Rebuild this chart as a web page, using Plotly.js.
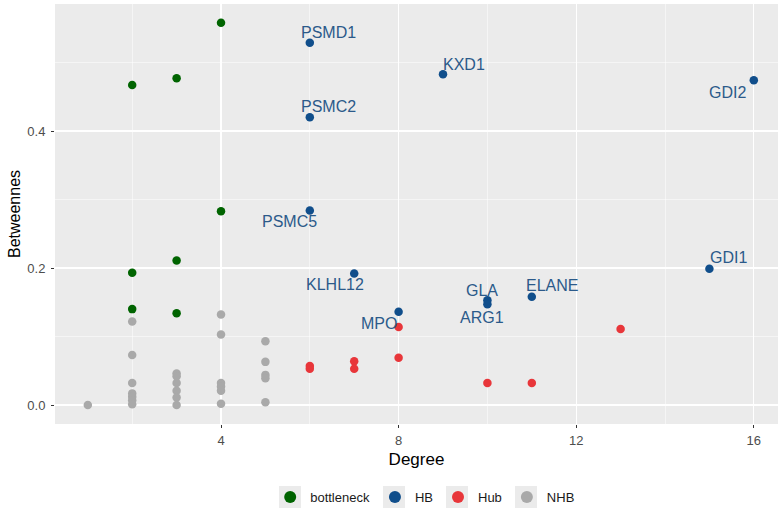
<!DOCTYPE html>
<html>
<head>
<meta charset="utf-8">
<script src="https://cdn.plot.ly/plotly-3.0.1.min.js"></script>
<style>html,body{margin:0;padding:0;background:#fff;}#chart{width:778px;height:512px;}</style>
</head>
<body>
<div id="chart"></div>
<script>
// ---- data ----
const bottleneckDegree = [2, 3, 4, 4, 2, 3, 2, 3];
const bottleneckBetween = [0.467, 0.477, 0.558, 0.283, 0.193, 0.211, 0.140, 0.134];

const hbNames = ["PSMD1", "KXD1", "GDI2", "PSMC2", "PSMC5", "KLHL12", "GLA", "ARG1", "ELANE", "MPO", "GDI1"];
const hbDegree = [6, 9, 16, 6, 6, 7, 10, 10, 11, 8, 15];
const hbBetween = [0.529, 0.483, 0.474, 0.420, 0.284, 0.192, 0.153, 0.147, 0.158, 0.136, 0.199];

const hubDegree = [6, 6, 7, 7, 8, 8, 10, 11, 13];
const hubBetween = [0.057, 0.053, 0.064, 0.053, 0.114, 0.069, 0.032, 0.032, 0.111];

const nhbDegree = [1, 2, 2, 2, 2, 2, 2, 2, 3, 3, 3, 3, 3, 3, 4, 4, 4, 4, 4, 4, 5, 5, 5, 5, 5];
const nhbBetween = [0.000, 0.122, 0.073, 0.032, 0.017, 0.012, 0.007, 0.001, 0.046, 0.042, 0.032, 0.021, 0.011, 0.000,
                    0.132, 0.103, 0.032, 0.027, 0.021, 0.002, 0.093, 0.063, 0.044, 0.039, 0.004];

const xTicks = [4, 8, 12, 16];
const xTickText = ["4", "8", "12", "16"];
const yTicks = [0, 0.2, 0.4];
const yTickText = ["0.0", "0.2", "0.4"];

// ---- label placement (style) ----
const labelShift = {
  PSMD1: [19, 10], KXD1: [21, 10], GDI2: [-26, -12], PSMC2: [19, 11], PSMC5: [-20, -11],
  KLHL12: [-19, -11], GLA: [-5, 10], ARG1: [-5, -13], ELANE: [20, 11], MPO: [-20, -12], GDI1: [19, 11]
};

const colors = {bottleneck: "#006400", HB: "#104E8B", Hub: "#E8363A", NHB: "#A9A9A9"};
const mk = c => ({color: c, size: 8.5});
const FONT = "Liberation Sans, Arial, sans-serif";

const traces = [
  {x: bottleneckDegree, y: bottleneckBetween, name: "bottleneck", type: "scatter", mode: "markers", marker: mk(colors.bottleneck)},
  {x: hbDegree, y: hbBetween, name: "HB", type: "scatter", mode: "markers", marker: mk(colors.HB), text: hbNames},
  {x: hubDegree, y: hubBetween, name: "Hub", type: "scatter", mode: "markers", marker: mk(colors.Hub)},
  {x: nhbDegree, y: nhbBetween, name: "NHB", type: "scatter", mode: "markers", marker: mk(colors.NHB)}
];

const annotations = hbNames.map((n, i) => ({
  x: hbDegree[i], y: hbBetween[i], xref: "x", yref: "y", text: n, showarrow: false,
  xanchor: "center", yanchor: "middle", xshift: labelShift[n][0], yshift: labelShift[n][1],
  font: {family: FONT, size: 16, color: "#2B5A8A"}
}));

// legend key backgrounds (pixel centres of the legend swatches, style only)
const keyCentresPx = [290, 394, 457, 526];
const keyShapes = keyCentresPx.map(cx => ({
  type: "rect", xref: "paper", yref: "paper", layer: "below",
  x0: (cx - 11 - 55) / 723, x1: (cx + 11 - 55) / 723,
  y0: (424 - 508) / 420, y1: (424 - 486) / 420,
  fillcolor: "#EBEBEB", line: {width: 0}
}));

const layout = {
  width: 778, height: 512,
  margin: {l: 55, r: 0, t: 4, b: 88},
  paper_bgcolor: "#ffffff",
  plot_bgcolor: "#EBEBEB",
  font: {family: FONT, color: "#000"},
  showlegend: true,
  legend: {orientation: "h", x: 0.512, xanchor: "center", y: -0.174, yanchor: "middle",
           font: {size: 13, color: "#1a1a1a"}, itemsizing: "constant", tracegroupgap: 0,
           bgcolor: "rgba(0,0,0,0)"},
  xaxis: {
    range: [0.261, 16.545], tickvals: xTicks, ticktext: xTickText,
    showgrid: true, gridcolor: "#FFFFFF", gridwidth: 1.2, zeroline: false, showline: false,
    ticks: "outside", ticklen: 3, tickcolor: "#333333", tickwidth: 1,
    tickfont: {size: 13, color: "#4D4D4D"}, ticklabelstandoff: 1,
    minor: {tickvals: [2, 6, 10, 14], showgrid: true, gridcolor: "#FFFFFF", gridwidth: 0.5, ticks: ""},
    title: {text: "Degree", font: {size: 17, color: "#000"}, standoff: 6}
  },
  yaxis: {
    range: [-0.0277, 0.5854], tickvals: yTicks, ticktext: yTickText,
    showgrid: true, gridcolor: "#FFFFFF", gridwidth: 1.2, zeroline: false, showline: false,
    ticks: "outside", ticklen: 3, tickcolor: "#333333", tickwidth: 1,
    tickfont: {size: 13, color: "#4D4D4D"}, ticklabelstandoff: 3,
    minor: {tickvals: [0.1, 0.3, 0.5], showgrid: true, gridcolor: "#FFFFFF", gridwidth: 0.5, ticks: ""},
    title: {text: "Betweennes", font: {size: 16, color: "#000"}, standoff: 2}
  },
  annotations: annotations,
  shapes: keyShapes
};

Plotly.newPlot("chart", traces, layout, {displayModeBar: false, staticPlot: true});
</script>
</body>
</html>
